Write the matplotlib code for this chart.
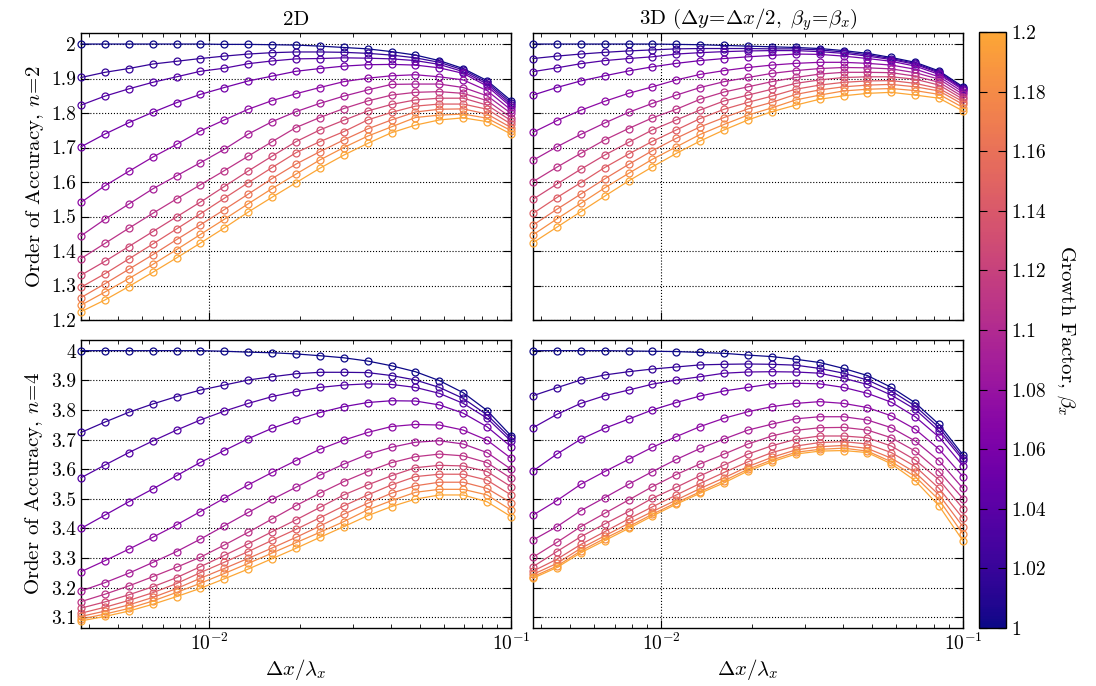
import numpy as np
import matplotlib
import matplotlib.pyplot as plt
from matplotlib.colors import ListedColormap, Normalize
from matplotlib.cm import ScalarMappable
from matplotlib.ticker import FormatStrFormatter

plt.rcParams['font.family'] = 'cmr10'
plt.rcParams['mathtext.fontset'] = 'cm'
plt.rcParams['axes.formatter.use_mathtext'] = True
plt.rcParams['axes.unicode_minus'] = False

# grid spacing dx/lambda_x
dx = [0.003756, 0.004507, 0.005409, 0.006491, 0.007789, 0.009346, 0.011216,
      0.013459, 0.016151, 0.019381, 0.023257, 0.027908, 0.033490, 0.040188,
      0.048225, 0.057870, 0.069444, 0.083333, 0.1]

# growth factors
beta = [1.0, 1.018, 1.036, 1.055, 1.073, 1.091, 1.109, 1.127, 1.145, 1.164, 1.182, 1.2]

# 2D, n = 2
ooa_2d_n2 = [
    [2.000, 2.000, 2.000, 2.000, 2.000, 2.000, 1.999, 1.999, 1.998, 1.997, 1.994, 1.990, 1.986, 1.978, 1.968, 1.952, 1.929, 1.894, 1.836],
    [1.903, 1.918, 1.929, 1.942, 1.950, 1.958, 1.965, 1.971, 1.975, 1.977, 1.977, 1.976, 1.973, 1.968, 1.960, 1.947, 1.925, 1.889, 1.830],
    [1.823, 1.849, 1.870, 1.889, 1.905, 1.921, 1.930, 1.943, 1.951, 1.957, 1.958, 1.960, 1.959, 1.957, 1.952, 1.941, 1.920, 1.884, 1.824],
    [1.702, 1.739, 1.772, 1.802, 1.830, 1.854, 1.874, 1.893, 1.907, 1.921, 1.929, 1.936, 1.940, 1.941, 1.939, 1.931, 1.915, 1.878, 1.818],
    [1.541, 1.589, 1.631, 1.672, 1.709, 1.748, 1.780, 1.811, 1.836, 1.856, 1.874, 1.891, 1.901, 1.908, 1.911, 1.905, 1.896, 1.865, 1.809],
    [1.444, 1.492, 1.536, 1.580, 1.618, 1.656, 1.695, 1.739, 1.775, 1.804, 1.828, 1.849, 1.867, 1.883, 1.884, 1.884, 1.874, 1.850, 1.799],
    [1.378, 1.422, 1.466, 1.509, 1.551, 1.592, 1.633, 1.675, 1.717, 1.758, 1.787, 1.813, 1.835, 1.852, 1.860, 1.862, 1.857, 1.836, 1.787],
    [1.330, 1.370, 1.413, 1.456, 1.499, 1.542, 1.587, 1.632, 1.675, 1.717, 1.751, 1.779, 1.806, 1.825, 1.838, 1.843, 1.843, 1.823, 1.778],
    [1.295, 1.334, 1.377, 1.420, 1.464, 1.508, 1.553, 1.598, 1.642, 1.685, 1.717, 1.746, 1.780, 1.802, 1.820, 1.826, 1.826, 1.811, 1.768],
    [1.265, 1.305, 1.347, 1.389, 1.433, 1.476, 1.520, 1.565, 1.610, 1.652, 1.688, 1.722, 1.754, 1.780, 1.803, 1.811, 1.812, 1.797, 1.758],
    [1.243, 1.281, 1.320, 1.361, 1.404, 1.448, 1.492, 1.537, 1.581, 1.623, 1.664, 1.700, 1.733, 1.760, 1.787, 1.794, 1.797, 1.785, 1.749],
    [1.224, 1.258, 1.297, 1.338, 1.380, 1.423, 1.467, 1.513, 1.556, 1.598, 1.640, 1.678, 1.712, 1.743, 1.765, 1.780, 1.786, 1.775, 1.739],
]

# 3D, n = 2
ooa_3d_n2 = [
    [2.000, 2.000, 2.000, 2.000, 2.000, 2.000, 1.999, 1.998, 1.996, 1.994, 1.992, 1.990, 1.987, 1.981, 1.973, 1.961, 1.947, 1.922, 1.876],
    [1.958, 1.965, 1.971, 1.976, 1.980, 1.983, 1.986, 1.987, 1.987, 1.987, 1.986, 1.986, 1.983, 1.977, 1.969, 1.958, 1.944, 1.919, 1.873],
    [1.920, 1.931, 1.943, 1.952, 1.958, 1.963, 1.971, 1.975, 1.978, 1.980, 1.981, 1.981, 1.978, 1.973, 1.965, 1.955, 1.941, 1.916, 1.870],
    [1.852, 1.874, 1.893, 1.908, 1.922, 1.934, 1.944, 1.952, 1.958, 1.963, 1.967, 1.971, 1.970, 1.965, 1.958, 1.950, 1.936, 1.912, 1.867],
    [1.744, 1.778, 1.808, 1.834, 1.857, 1.876, 1.896, 1.912, 1.923, 1.932, 1.939, 1.944, 1.947, 1.947, 1.944, 1.939, 1.927, 1.905, 1.861],
    [1.663, 1.702, 1.738, 1.771, 1.802, 1.828, 1.852, 1.874, 1.891, 1.903, 1.915, 1.923, 1.929, 1.932, 1.931, 1.928, 1.917, 1.898, 1.854],
    [1.601, 1.643, 1.683, 1.722, 1.755, 1.786, 1.811, 1.840, 1.861, 1.876, 1.891, 1.903, 1.913, 1.918, 1.918, 1.917, 1.907, 1.889, 1.847],
    [1.550, 1.594, 1.637, 1.678, 1.715, 1.751, 1.780, 1.809, 1.835, 1.852, 1.869, 1.886, 1.896, 1.903, 1.905, 1.905, 1.898, 1.881, 1.840],
    [1.509, 1.555, 1.598, 1.642, 1.681, 1.718, 1.751, 1.784, 1.811, 1.831, 1.849, 1.869, 1.881, 1.889, 1.893, 1.894, 1.886, 1.871, 1.833],
    [1.475, 1.521, 1.565, 1.609, 1.651, 1.691, 1.727, 1.760, 1.787, 1.812, 1.831, 1.854, 1.867, 1.876, 1.881, 1.883, 1.876, 1.864, 1.825],
    [1.447, 1.493, 1.538, 1.583, 1.625, 1.666, 1.702, 1.738, 1.767, 1.794, 1.815, 1.838, 1.852, 1.864, 1.869, 1.871, 1.865, 1.854, 1.816],
    [1.424, 1.469, 1.514, 1.559, 1.603, 1.644, 1.683, 1.719, 1.751, 1.780, 1.804, 1.823, 1.840, 1.850, 1.857, 1.860, 1.852, 1.843, 1.806],
]

# 2D, n = 4
ooa_2d_n4 = [
    [4.000, 4.000, 4.000, 4.000, 4.000, 4.000, 3.998, 3.995, 3.993, 3.989, 3.983, 3.976, 3.965, 3.949, 3.929, 3.899, 3.858, 3.798, 3.713],
    [3.724, 3.759, 3.792, 3.820, 3.845, 3.867, 3.884, 3.901, 3.912, 3.922, 3.927, 3.927, 3.926, 3.916, 3.901, 3.876, 3.839, 3.783, 3.704],
    [3.571, 3.614, 3.656, 3.695, 3.732, 3.766, 3.796, 3.822, 3.845, 3.862, 3.876, 3.884, 3.888, 3.886, 3.876, 3.856, 3.822, 3.772, 3.695],
    [3.400, 3.445, 3.490, 3.533, 3.578, 3.623, 3.663, 3.703, 3.738, 3.766, 3.791, 3.811, 3.825, 3.831, 3.830, 3.817, 3.789, 3.743, 3.676],
    [3.254, 3.291, 3.330, 3.370, 3.412, 3.457, 3.502, 3.547, 3.589, 3.629, 3.667, 3.698, 3.724, 3.744, 3.751, 3.749, 3.732, 3.698, 3.637],
    [3.189, 3.217, 3.249, 3.285, 3.322, 3.364, 3.409, 3.454, 3.498, 3.539, 3.580, 3.617, 3.650, 3.674, 3.691, 3.696, 3.685, 3.656, 3.600],
    [3.153, 3.178, 3.206, 3.237, 3.269, 3.303, 3.344, 3.387, 3.432, 3.477, 3.519, 3.558, 3.592, 3.622, 3.642, 3.651, 3.645, 3.622, 3.569],
    [3.131, 3.152, 3.176, 3.203, 3.234, 3.271, 3.309, 3.348, 3.389, 3.429, 3.471, 3.513, 3.547, 3.578, 3.605, 3.613, 3.611, 3.592, 3.541],
    [3.114, 3.134, 3.157, 3.183, 3.214, 3.251, 3.286, 3.322, 3.360, 3.397, 3.436, 3.476, 3.513, 3.547, 3.575, 3.583, 3.583, 3.563, 3.513],
    [3.103, 3.121, 3.142, 3.167, 3.197, 3.232, 3.265, 3.299, 3.334, 3.370, 3.408, 3.448, 3.485, 3.519, 3.544, 3.556, 3.556, 3.535, 3.487],
    [3.094, 3.111, 3.130, 3.155, 3.184, 3.215, 3.248, 3.282, 3.317, 3.352, 3.387, 3.423, 3.463, 3.494, 3.522, 3.532, 3.532, 3.513, 3.462],
    [3.088, 3.103, 3.121, 3.144, 3.170, 3.198, 3.230, 3.263, 3.298, 3.333, 3.370, 3.406, 3.443, 3.474, 3.499, 3.513, 3.513, 3.490, 3.440],
]

# 3D, n = 4
ooa_3d_n4 = [
    [4.000, 4.000, 4.000, 4.000, 3.999, 3.998, 3.997, 3.994, 3.991, 3.985, 3.980, 3.971, 3.960, 3.940, 3.916, 3.876, 3.824, 3.751, 3.648],
    [3.848, 3.875, 3.901, 3.918, 3.929, 3.938, 3.945, 3.952, 3.954, 3.955, 3.954, 3.951, 3.940, 3.924, 3.901, 3.864, 3.813, 3.740, 3.639],
    [3.740, 3.785, 3.822, 3.848, 3.867, 3.887, 3.901, 3.912, 3.924, 3.928, 3.929, 3.928, 3.924, 3.907, 3.886, 3.850, 3.802, 3.729, 3.631],
    [3.594, 3.651, 3.701, 3.738, 3.769, 3.800, 3.825, 3.847, 3.864, 3.876, 3.888, 3.890, 3.888, 3.876, 3.856, 3.826, 3.777, 3.708, 3.611],
    [3.445, 3.494, 3.549, 3.592, 3.633, 3.674, 3.710, 3.744, 3.772, 3.794, 3.811, 3.822, 3.828, 3.822, 3.808, 3.780, 3.735, 3.667, 3.575],
    [3.361, 3.406, 3.460, 3.504, 3.549, 3.592, 3.633, 3.670, 3.702, 3.732, 3.752, 3.770, 3.777, 3.777, 3.766, 3.740, 3.695, 3.628, 3.535],
    [3.303, 3.353, 3.406, 3.451, 3.496, 3.541, 3.582, 3.618, 3.651, 3.685, 3.712, 3.731, 3.740, 3.741, 3.732, 3.706, 3.661, 3.592, 3.501],
    [3.271, 3.322, 3.372, 3.415, 3.457, 3.502, 3.539, 3.578, 3.614, 3.651, 3.679, 3.701, 3.712, 3.712, 3.706, 3.678, 3.631, 3.564, 3.467],
    [3.256, 3.296, 3.346, 3.389, 3.432, 3.473, 3.513, 3.552, 3.589, 3.625, 3.656, 3.678, 3.690, 3.693, 3.685, 3.656, 3.609, 3.535, 3.434],
    [3.245, 3.282, 3.333, 3.375, 3.417, 3.457, 3.496, 3.535, 3.571, 3.609, 3.640, 3.665, 3.676, 3.680, 3.670, 3.637, 3.589, 3.513, 3.406],
    [3.237, 3.273, 3.324, 3.366, 3.406, 3.448, 3.487, 3.524, 3.561, 3.600, 3.631, 3.657, 3.667, 3.671, 3.661, 3.625, 3.575, 3.496, 3.381],
    [3.232, 3.268, 3.318, 3.359, 3.400, 3.442, 3.482, 3.519, 3.554, 3.594, 3.625, 3.651, 3.661, 3.663, 3.656, 3.618, 3.561, 3.476, 3.358],
]

yticks_n2 = [1.2, 1.3, 1.4, 1.5, 1.6, 1.7, 1.8, 1.9, 2.0]
yticks_n4 = [3.1, 3.2, 3.3, 3.4, 3.5, 3.6, 3.7, 3.8, 3.9, 4.0]
cbar_ticks = [1.0, 1.02, 1.04, 1.06, 1.08, 1.1, 1.12, 1.14, 1.16, 1.18, 1.2]

# plasma, cut off before the yellow end
cmap = ListedColormap(plt.cm.plasma(np.linspace(0.0, 0.8, 256)))
norm = Normalize(vmin=1.0, vmax=1.2)

fig = plt.figure(figsize=(10.96, 6.86), dpi=100)
W, H = 1096, 686
def box(x0, y0, x1, y1):
    return [x0 / W, 1 - y1 / H, (x1 - x0) / W, (y1 - y0) / H]

ax_tl = fig.add_axes(box(81, 33, 511, 320))
ax_tr = fig.add_axes(box(533, 33, 963, 320))
ax_bl = fig.add_axes(box(81, 340, 511, 628))
ax_br = fig.add_axes(box(533, 340, 963, 628))
cax = fig.add_axes(box(979, 32, 1006, 628))

panels = [
    (ax_tl, ooa_2d_n2, yticks_n2, (1.2, 2.032)),
    (ax_tr, ooa_3d_n2, yticks_n2, (1.2, 2.032)),
    (ax_bl, ooa_2d_n4, yticks_n4, (3.064, 4.036)),
    (ax_br, ooa_3d_n4, yticks_n4, (3.064, 4.036)),
]

for ax, data, yt, ylim in panels:
    for b, row in zip(beta, data):
        ax.plot(dx, row, '-o', color=cmap(norm(b)), lw=0.9, ms=5,
                mfc='none', mew=0.9, clip_on=False, zorder=3)
    ax.set_xscale('log')
    ax.set_xlim(dx[0], 0.1)
    ax.set_ylim(*ylim)
    ax.set_yticks(yt)
    ax.yaxis.set_major_formatter(FormatStrFormatter('%g'))
    ax.grid(True, which='major', ls=':', color='black', lw=0.8)
    ax.tick_params(which='both', direction='in', top=True, right=True, labelsize=14)
    ax.tick_params(which='major', length=6)
    ax.tick_params(which='minor', length=3)
    for s in ax.spines.values():
        s.set_linewidth(1.0)

for ax in (ax_tl, ax_tr):
    ax.tick_params(labelbottom=False)
for ax in (ax_tr, ax_br):
    ax.tick_params(labelleft=False)
for ax in (ax_bl, ax_br):
    ax.set_xlabel(r'$\Delta x/\lambda_x$', fontsize=15, labelpad=2)

ax_tl.set_ylabel(r'Order of Accuracy, $n\!=\!2$', fontsize=15)
ax_bl.set_ylabel(r'Order of Accuracy, $n\!=\!4$', fontsize=15)
ax_tl.set_title('2D', fontsize=15, pad=6)
ax_tr.set_title(r'3D ($\Delta y\!=\!\Delta x/2,\ \beta_y\!=\!\beta_x$)', fontsize=15, pad=6)

cb = fig.colorbar(ScalarMappable(norm=norm, cmap=cmap), cax=cax, ticks=cbar_ticks)
cb.ax.yaxis.set_major_formatter(FormatStrFormatter('%g'))
cb.ax.tick_params(direction='in', left=True, right=True, length=6, labelsize=14)
cb.outline.set_linewidth(1.0)
cb.set_label(r'Growth Factor, $\beta_x$', rotation=270, fontsize=15, labelpad=22)

fig.savefig('out.png', dpi=100)
